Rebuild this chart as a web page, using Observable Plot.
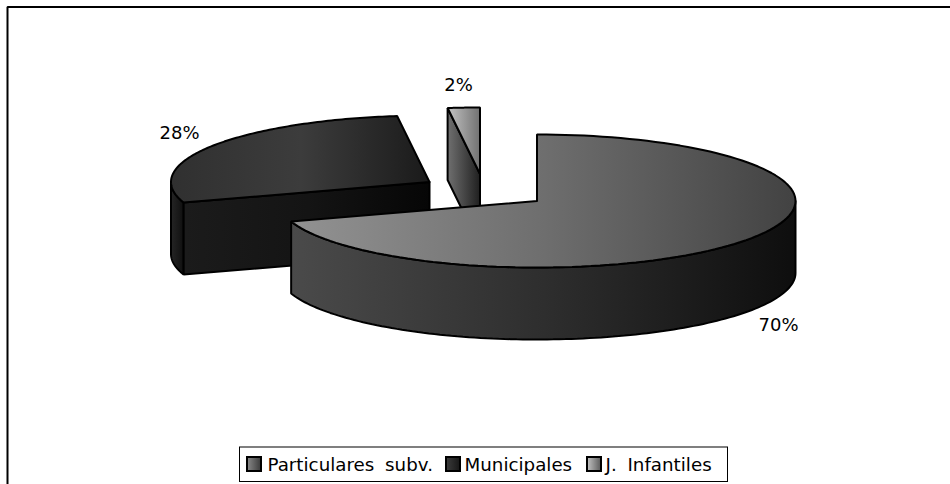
<!DOCTYPE html>
<html><head><meta charset="utf-8">
<script src="https://cdn.jsdelivr.net/npm/d3@7"></script>
<script src="https://cdn.jsdelivr.net/npm/@observablehq/plot@0.6"></script>
<style>html,body{margin:0;padding:0;background:#fff}</style>
</head><body><div id="chart"></div>
<script>
const categories = ["Particulares subv.", "Municipales", "J. Infantiles"];
const shares = [70, 28, 2];
const shareLabels = ["70%", "28%", "2%"];
const apexX = [536.5, 429, 479.5];
const apexY = [200.5, 181.5, 173.5];
const labelX = [778, 179, 458];
const labelY = [330, 138, 90];
const legendSwatchX = [246, 445, 586];
const legendTextX = [267, 464, 605];

const RX = 258.5, RY = 66.5, DEPTH = 72;
const total = d3.sum(shares);
const TAU = Math.PI * 2;

// cumulative angles clockwise from 12 o'clock
let acc = 0;
const slices = shares.map((v, i) => {
  const a0 = acc / total * TAU; acc += v; const a1 = acc / total * TAU;
  return {i, a0, a1, cx: apexX[i], cy: apexY[i]};
});
const pt = (s, a, dz = 0) => ({x: s.cx + RX * Math.sin(a), y: s.cy - RY * Math.cos(a) + dz});
const arc = (s, a0, a1, dz = 0) => d3.range(0, 121).map(k => pt(s, a0 + (a1 - a0) * k / 120, dz));
const topFace = s => {
  const c = {x: s.cx, y: s.cy};
  return [c, ...arc(s, s.a0, s.a1), c];
};
const closed = p => [...p, p[0]];
const rim = (s, a0, a1) => closed([...arc(s, a0, a1), ...arc(s, a1, a0, DEPTH)]);
const cutFace = (s, a) => {
  const c = {x: s.cx, y: s.cy}, e = pt(s, a);
  return closed([c, e, {x: e.x, y: e.y + DEPTH}, {x: c.x, y: c.y + DEPTH}]);
};
const [big, mid, small] = slices;

const faces = [
  {p: cutFace(small, small.a0), g: "gSmallSide"},
  {p: topFace(small), g: "gSmallTop"},
  {p: rim(mid, mid.a0, 1.5 * Math.PI), g: "gMidRim"},
  {p: cutFace(mid, mid.a0), g: "gMidSide"},
  {p: topFace(mid), g: "gMidTop"},
  {p: rim(big, Math.PI / 2, big.a1), g: "gBigSide"},
  {p: topFace(big), g: "gBigTop"}
];

const gradients = {
  gBigTop: [292, 796, ["#929292", "#6e6e6e", "#424242"]],
  gBigSide: [292, 796, ["#4a4a4a", "#2e2e2e", "#0e0e0e"]],
  gMidTop: [171, 430, ["#303030", "#3c3c3c", "#1a1a1a"]],
  gMidSide: [185, 430, ["#1b1b1b", "#141414", "#060606"]],
  gMidRim: [171, 185, ["#242424", "#0c0c0c"]],
  gSmallTop: [447, 480, ["#c4c4c4", "#707070"]],
  gSmallSide: [447, 480, ["#707070", "#1e1e1e"]],
  gLeg0: [0, 1, ["#8a8a8a", "#3a3a3a"]],
  gLeg1: [0, 1, ["#3c3c3c", "#161616"]],
  gLeg2: [0, 1, ["#c4c4c4", "#5a5a5a"]]
};
const defs = () => {
  const d = d3.create("svg:defs");
  for (const [id, [x1, x2, stops]] of Object.entries(gradients)) {
    const unit = id.startsWith("gLeg");
    const g = d.append("linearGradient").attr("id", id)
      .attr("gradientUnits", unit ? "objectBoundingBox" : "userSpaceOnUse")
      .attr("x1", x1).attr("x2", x2).attr("y1", 0).attr("y2", 0);
    stops.forEach((c, i) => g.append("stop").attr("offset", i / (stops.length - 1)).attr("stop-color", c));
  }
  return d.node();
};

const font = "'DejaVu Sans'";
const plot = Plot.plot({
  width: 950, height: 484, margin: 0,
  x: {domain: [0, 950], range: [0, 950], axis: null},
  y: {domain: [0, 484], range: [0, 484], axis: null},
  style: {background: "#fff", fontFamily: font, wordSpacing: "5px"},
  marks: [
    defs,
    Plot.line([{x: 7, y: 490}, {x: 7, y: 6.5}, {x: 956, y: 6.5}], {x: "x", y: "y", stroke: "#000", strokeWidth: 2, strokeLinejoin: "miter"}),
    ...faces.map(f => Plot.line(f.p, {x: "x", y: "y", fill: `url(#${f.g})`, stroke: "#000", strokeWidth: 2, strokeLinejoin: "miter"})),
    Plot.text(shareLabels, {x: (d, i) => labelX[i], y: (d, i) => labelY[i], text: d => d, fontSize: 18, fill: "#000", textAnchor: "middle", lineAnchor: "bottom"}),
    Plot.rect([0], {x1: () => 239.5, x2: () => 727.5, y1: () => 447, y2: () => 481.5, fill: "#fff", stroke: "#000", strokeWidth: 1}),
    Plot.rect(categories, {x1: (d, i) => legendSwatchX[i] + 1, x2: (d, i) => legendSwatchX[i] + 15, y1: () => 457, y2: () => 471, fill: (d, i) => `url(#gLeg${i})`, stroke: "#000", strokeWidth: 2}),
    Plot.text(categories, {x: (d, i) => legendTextX[i], y: () => 470, text: d => d, fontSize: 18.25, fill: "#000", textAnchor: "start", lineAnchor: "bottom"})
  ]
});
document.getElementById("chart").appendChild(plot);
</script></body></html>
